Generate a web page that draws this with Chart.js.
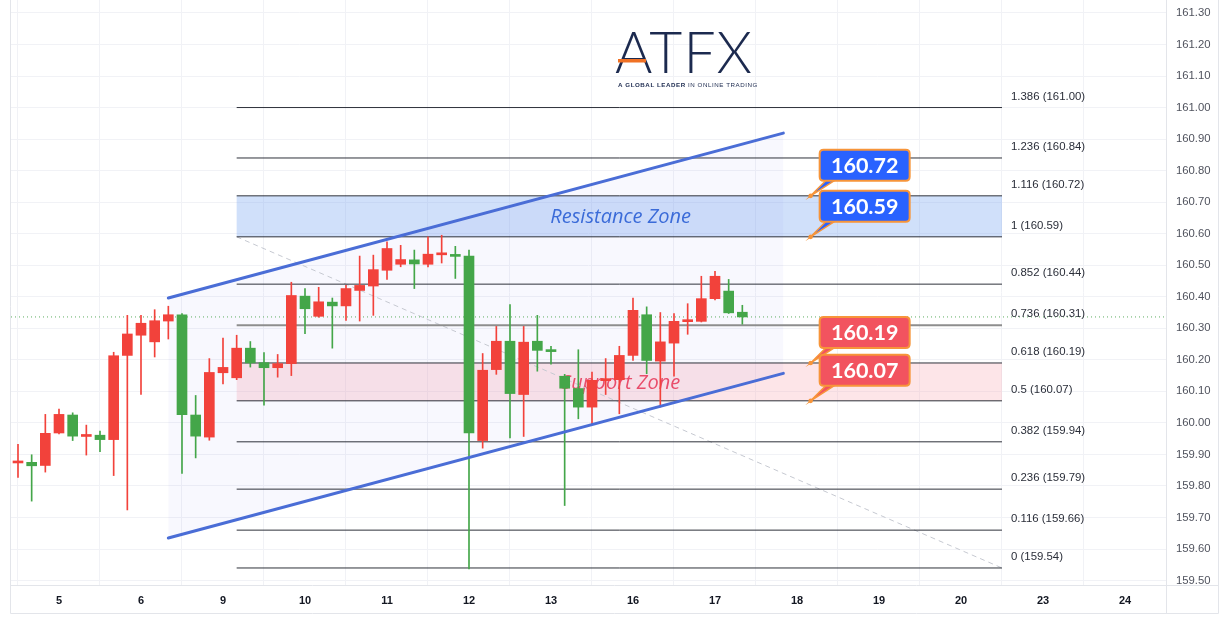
<!DOCTYPE html>
<html>
<head>
<meta charset="utf-8">
<script src="https://cdn.jsdelivr.net/npm/chart.js@4.4.1/dist/chart.umd.min.js"></script>
<style>
html,body{margin:0;padding:0;background:#ffffff;overflow:hidden;}
#wrap{position:relative;width:1228px;height:629px;}
</style>
</head>
<body>
<div id="wrap"><canvas id="c" width="1228" height="629"></canvas></div>
<script>
// ---------------- DATA (4-hour candles) ----------------
const candleOpen  = [159.873,159.875,159.865,159.968,160.025,159.957,159.961,159.947,160.214,160.278,
                     160.257,160.323,160.343,160.025,159.955,160.159,160.143,160.237,160.191,160.175,
                     160.188,160.402,160.338,160.383,160.371,160.420,160.434,160.484,160.503,160.517,
                     160.503,160.533,160.534,160.529,159.944,160.169,160.259,160.090,160.259,160.231,
                     160.148,160.109,160.050,160.134,160.137,160.214,160.343,160.196,160.253,160.321,
                     160.322,160.394,160.418,160.351];
const candleHigh  = [159.932,159.899,160.027,160.044,160.032,159.993,159.974,160.224,160.341,160.341,
                     160.359,160.370,160.347,160.087,160.204,160.269,160.278,160.258,160.223,160.217,
                     160.446,160.426,160.430,160.396,160.436,160.529,160.532,160.574,160.563,160.548,
                     160.590,160.595,160.560,160.548,160.220,160.306,160.375,160.306,160.341,160.243,
                     160.154,160.232,160.161,160.204,160.243,160.396,160.368,160.350,160.347,160.378,
                     160.465,160.481,160.455,160.373];
const candleLow   = [159.827,159.752,159.844,159.965,159.944,159.898,159.909,159.833,159.724,160.090,
                     160.209,160.266,159.840,159.889,159.945,160.124,160.137,160.177,160.056,160.145,
                     160.150,160.283,160.335,160.237,160.325,160.323,160.341,160.455,160.495,160.426,
                     160.495,160.507,160.458,159.537,159.920,160.154,159.952,159.957,160.164,160.186,
                     159.738,160.013,159.997,160.090,160.029,160.198,160.156,160.050,160.148,160.281,
                     160.320,160.390,160.347,160.313];
const candleClose = [159.878,159.864,159.967,160.027,159.958,159.960,159.947,160.213,160.282,160.316,
                     160.324,160.343,160.026,159.958,160.160,160.176,160.237,160.190,160.175,160.188,
                     160.404,160.362,160.384,160.371,160.426,160.436,160.486,160.553,160.518,160.504,
                     160.535,160.536,160.528,159.968,160.167,160.259,160.093,160.256,160.230,160.226,
                     160.110,160.050,160.135,160.137,160.214,160.357,160.198,160.257,160.322,160.324,
                     160.394,160.465,160.349,160.336];

const dayLabels   = ['5','6','9','10','11','12','13','16','17','18','19','20','23','24'];
const barsPerDay  = 6;
const firstDayBar = 3;
const priceTicks  = [159.5,159.6,159.7,159.8,159.9,160.0,160.1,160.2,160.3,160.4,
                     160.5,160.6,160.7,160.8,160.9,161.0,161.1,161.2,161.3];

const fibRatios = ['1.386','1.236','1.116','1','0.852','0.736','0.618','0.5','0.382','0.236','0.116','0'];
const fibPrices = [161.00,160.84,160.72,160.59,160.44,160.31,160.19,160.07,159.94,159.79,159.66,159.54];
const fibFromBar = 16, fibToBar = 72;

const resistanceZone = [160.59, 160.72];
const supportZone    = [160.07, 160.19];
const channelUpper   = [{x:11, y:160.396}, {x:56, y:160.919}];
const channelLower   = [{x:11, y:159.635}, {x:56, y:160.157}];
const calloutValues  = [160.72, 160.59, 160.19, 160.07];
const calloutBar     = 58;

// ---------------- STYLE ----------------
const UP = '#f2423b', DOWN = '#44a649';
const ORANGE = '#f7953a';
const GRID = '#f1f2f6';
const X_MIN = -0.512, X_MAX = 84.0;
const Y_MIN = 159.486, Y_MAX = 161.341;
const FONT = "'Liberation Sans', Arial, sans-serif";

Chart.defaults.font.family = FONT;

const bars = candleOpen.map((_, i) => i);
const candleColors = bars.map(i => candleClose[i] >= candleOpen[i] ? UP : DOWN);
const wickData = bars.map(i => ({x: i, y: [candleLow[i], candleHigh[i]]}));
const bodyData = bars.map(i => ({x: i, y: [candleOpen[i], candleClose[i]]}));
const lastClose = candleClose[candleClose.length - 1];

const lineBase = {type: 'line', pointRadius: 0, pointHoverRadius: 0, tension: 0, fill: false};

const datasets = [
  // channel fill (behind everything)
  Object.assign({}, lineBase, {data: channelUpper, borderWidth: 0, borderColor: 'rgba(0,0,0,0)', order: 21}),
  Object.assign({}, lineBase, {data: channelLower, borderWidth: 0, borderColor: 'rgba(0,0,0,0)',
      fill: '-1', backgroundColor: 'rgba(90,100,225,0.045)', order: 20}),
  // channel lines
  Object.assign({}, lineBase, {data: channelUpper, borderColor: '#4a6dd6', borderWidth: 3, borderCapStyle: 'round', order: 0}),
  Object.assign({}, lineBase, {data: channelLower, borderColor: '#4a6dd6', borderWidth: 3, borderCapStyle: 'round', order: 0}),
  // candles
  {type: 'bar', data: bodyData, backgroundColor: candleColors, borderWidth: 0, barThickness: 10,
   grouped: false, minBarLength: 2, order: 1},
  {type: 'bar', data: wickData, backgroundColor: candleColors, borderWidth: 0, barThickness: 1,
   grouped: false, order: 2},
  // last price dotted line
  Object.assign({}, lineBase, {data: [{x: X_MIN, y: lastClose}, {x: X_MAX, y: lastClose}],
      borderColor: '#5fae63', borderWidth: 1, borderDash: [1, 3], order: 4}),
  // fib trend (dashed diagonal)
  Object.assign({}, lineBase, {data: [{x: fibFromBar, y: fibPrices[3]}, {x: fibToBar, y: fibPrices[fibPrices.length - 1]}],
      borderColor: '#c6c9d1', borderWidth: 1, borderDash: [5, 4], order: 6})
];
fibPrices.forEach((p, k) => {
  const special = fibRatios[k] === '0.736';
  datasets.push(Object.assign({}, lineBase, {
    data: [{x: fibFromBar, y: p}, {x: fibToBar, y: p}],
    borderColor: special ? '#8e8e8e' : '#2e313a', borderWidth: special ? 2 : 1, order: 5
  }));
});

// ---------------- PLUGINS ----------------
const zonesPlugin = {
  id: 'zones',
  beforeDatasetsDraw(chart) {
    const {ctx, scales: {x, y}} = chart;
    const x0 = x.getPixelForValue(fibFromBar), x1 = x.getPixelForValue(fibToBar);
    ctx.save();
    ctx.fillStyle = 'rgba(120,165,240,0.35)';
    let t = y.getPixelForValue(resistanceZone[1]), b = y.getPixelForValue(resistanceZone[0]);
    ctx.fillRect(x0, t, x1 - x0, b - t);
    ctx.fillStyle = 'rgba(248,170,180,0.30)';
    t = y.getPixelForValue(supportZone[1]); b = y.getPixelForValue(supportZone[0]);
    ctx.fillRect(x0, t, x1 - x0, b - t);

    ctx.font = "italic 20px 'Open Sans', 'DejaVu Sans', sans-serif";
    ctx.textAlign = 'center';
    ctx.textBaseline = 'middle';
    const cx = x.getPixelForValue(44.1);
    ctx.fillStyle = '#3a6cd8';
    ctx.fillText('Resistance Zone', cx, y.getPixelForValue((resistanceZone[0] + resistanceZone[1]) / 2) + 1);
    ctx.fillStyle = '#ef4d66';
    ctx.fillText('Support Zone', cx, y.getPixelForValue((supportZone[0] + supportZone[1]) / 2) + 1);
    ctx.restore();
  }
};

function roundRect(ctx, x, y, w, h, r) {
  ctx.beginPath();
  ctx.moveTo(x + r, y);
  ctx.lineTo(x + w - r, y); ctx.quadraticCurveTo(x + w, y, x + w, y + r);
  ctx.lineTo(x + w, y + h - r); ctx.quadraticCurveTo(x + w, y + h, x + w - r, y + h);
  ctx.lineTo(x + r, y + h); ctx.quadraticCurveTo(x, y + h, x, y + h - r);
  ctx.lineTo(x, y + r); ctx.quadraticCurveTo(x, y, x + r, y);
  ctx.closePath();
}

const annotPlugin = {
  id: 'annot',
  afterDatasetsDraw(chart) {
    const {ctx, scales: {x, y}} = chart;
    ctx.save();
    // fib level labels
    ctx.font = '11.4px ' + FONT;
    ctx.fillStyle = '#2a2e39';
    ctx.textAlign = 'left';
    ctx.textBaseline = 'middle';
    const lx = x.getPixelForValue(fibToBar) + 9;
    fibPrices.forEach((p, k) => {
      ctx.fillText(fibRatios[k] + ' (' + p.toFixed(2) + ')', lx, y.getPixelForValue(p) - 11);
    });

    // callouts
    calloutValues.forEach(v => {
      const ax = x.getPixelForValue(calloutBar), ay = y.getPixelForValue(v);
      const fill = v >= resistanceZone[0] ? '#2962ff' : '#f2535f';
      const bx = ax + 9, by = ay - 46, bw = 90, bh = 31;
      ctx.beginPath();
      ctx.moveTo(ax, ay);
      ctx.lineTo(ax + 16, by + bh - 1);
      ctx.lineTo(ax + 25, by + bh - 1);
      ctx.closePath();
      ctx.fillStyle = fill; ctx.fill();
      ctx.strokeStyle = ORANGE; ctx.lineWidth = 1.5; ctx.stroke();
      roundRect(ctx, bx, by, bw, bh, 4);
      ctx.fillStyle = fill; ctx.fill();
      ctx.lineWidth = 2; ctx.strokeStyle = ORANGE; ctx.stroke();
      ctx.fillStyle = '#ffffff';
      ctx.font = "bold 21.5px Lato, 'Open Sans', sans-serif";
      ctx.textAlign = 'center';
      ctx.fillText(v.toFixed(2), bx + bw / 2, by + bh / 2 + 1);
      ctx.beginPath(); ctx.arc(ax, ay, 2.3, 0, Math.PI * 2);
      ctx.fillStyle = ORANGE; ctx.fill();
    });
    ctx.restore();
  },
  afterDraw(chart) {
    const {ctx} = chart;
    ctx.save();
    // frame lines
    ctx.strokeStyle = '#e3e5ea';
    ctx.lineWidth = 1;
    ctx.beginPath();
    ctx.moveTo(10.5, 0); ctx.lineTo(10.5, 613.5);
    ctx.lineTo(1218.5, 613.5); ctx.lineTo(1218.5, 0);
    ctx.moveTo(10.5, 585.5); ctx.lineTo(1218.5, 585.5);
    ctx.moveTo(1166.5, 0); ctx.lineTo(1166.5, 613.5);
    ctx.stroke();

    // logo
    ctx.fillStyle = '#1c2a4f';
    ctx.textAlign = 'left';
    ctx.textBaseline = 'alphabetic';
    ctx.font = "300 57px Lato, 'Open Sans', sans-serif";
    ctx.letterSpacing = '1px';
    ctx.fillText('ATFX', 615, 73);
    ctx.fillStyle = '#f07124';
    ctx.fillRect(618, 59, 28, 3.5);
    ctx.fillStyle = '#1c2a4f';
    const p1 = 'A GLOBAL LEADER ', p2 = 'IN ONLINE TRADING';
    ctx.letterSpacing = '0px';
    ctx.font = 'bold 6.2px ' + FONT;
    const w1 = ctx.measureText(p1).width;
    ctx.font = '6.2px ' + FONT;
    const w2 = ctx.measureText(p2).width;
    const ls = (140 - w1 - w2) / (p1.length + p2.length);
    ctx.letterSpacing = ls.toFixed(2) + 'px';
    ctx.font = 'bold 6.2px ' + FONT;
    ctx.fillText(p1, 618, 87);
    const w1s = ctx.measureText(p1).width;
    ctx.font = '6.2px ' + FONT;
    ctx.fillText(p2, 618 + w1s, 87);
    ctx.restore();
  }
};

// ---------------- CHART ----------------
function noScalePadding(s) {
  s.paddingTop = 0; s.paddingBottom = 0; s.paddingLeft = 0; s.paddingRight = 0;
}

new Chart(document.getElementById('c'), {
  type: 'bar',
  data: {datasets},
  options: {
    responsive: false,
    animation: false,
    devicePixelRatio: 1,
    events: [],
    layout: {padding: {left: 11, right: 0, top: 0, bottom: 0}},
    plugins: {legend: {display: false}, tooltip: {enabled: false}},
    scales: {
      x: {
        type: 'linear', min: X_MIN, max: X_MAX, offset: false,
        afterBuildTicks(s) { s.ticks = dayLabels.map((_, i) => ({value: firstDayBar + barsPerDay * i})); },
        afterFit(s) { s.height = 44; noScalePadding(s); },
        ticks: {
          autoSkip: false, maxRotation: 0, padding: 9,
          color: '#131722', font: {size: 11, weight: 'bold'},
          callback: (v, i) => dayLabels[i]
        },
        grid: {color: GRID, drawTicks: false},
        border: {display: false}
      },
      y: {
        type: 'linear', position: 'right', min: Y_MIN, max: Y_MAX,
        afterBuildTicks(s) { s.ticks = priceTicks.map(v => ({value: v})); },
        afterFit(s) { s.width = 62; noScalePadding(s); },
        ticks: {
          padding: 10, color: '#50535e', font: {size: 11.3},
          callback: v => Number(v).toFixed(2)
        },
        grid: {color: GRID, drawTicks: false},
        border: {display: false}
      }
    }
  },
  plugins: [zonesPlugin, annotPlugin]
});
</script>
</body>
</html>
